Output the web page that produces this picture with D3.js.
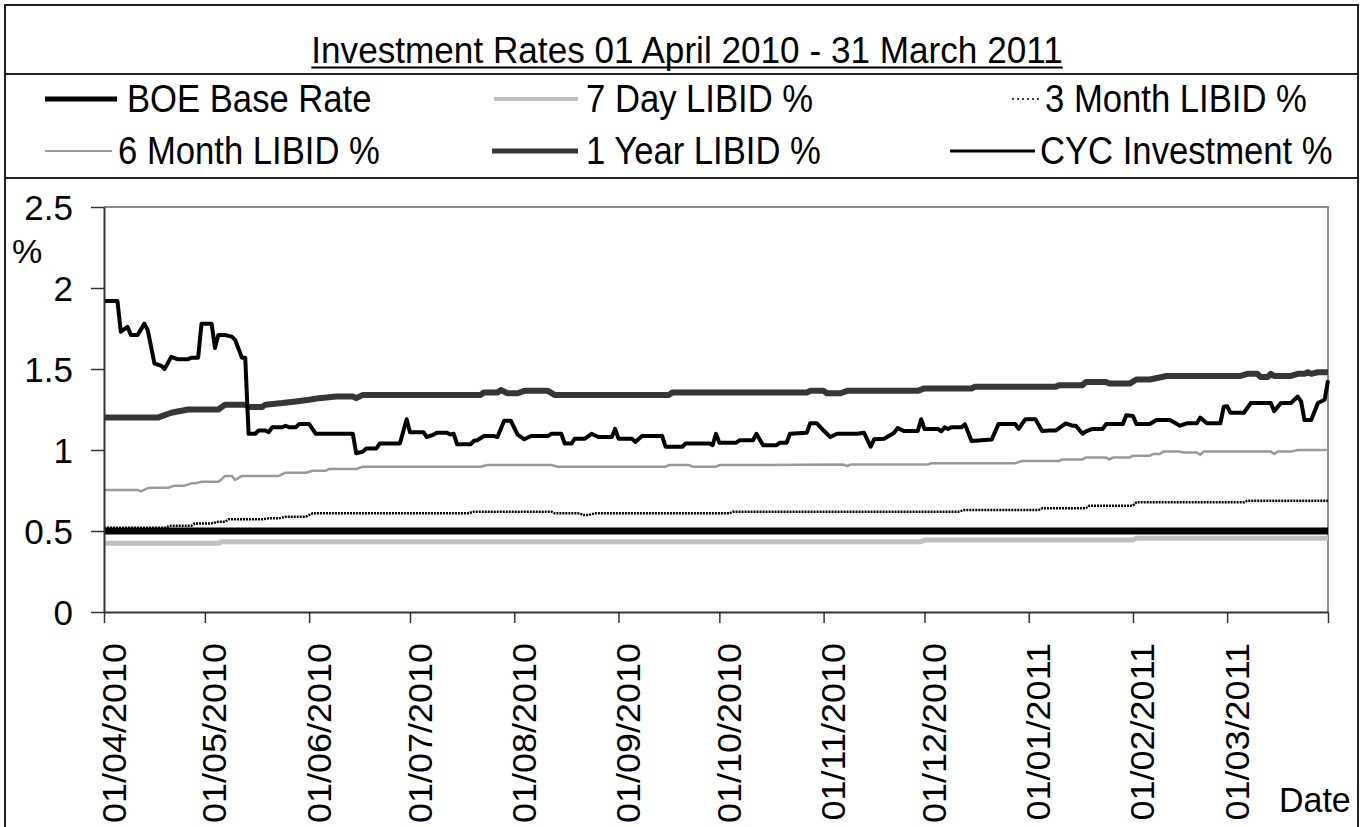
<!DOCTYPE html>
<html>
<head>
<meta charset="utf-8">
<style>
    body { margin: 0; background: #fff; }
    svg text { font-family: "Liberation Sans", Arial, sans-serif; fill: #000; }
</style>
<script src="https://d3js.org/d3.v7.min.js"></script>
</head>
<body>
<svg id="chart" width="1367" height="827"></svg>
<script>
// series as [date, rate %]
var boeRate = [["2010-04-01", 0.5], ["2011-03-31", 0.5]];

var sevenDay = [["2010-04-01", 0.424], ["2010-05-05", 0.424], ["2010-05-06", 0.434], ["2010-11-30", 0.434],
    ["2010-12-01", 0.444], ["2011-02-01", 0.444], ["2011-02-02", 0.455], ["2011-03-31", 0.455]];

var threeMonth = [["2010-04-01", 0.52], ["2010-04-19", 0.52], ["2010-04-21", 0.533], ["2010-04-27", 0.533],
    ["2010-04-28", 0.547], ["2010-05-03", 0.547], ["2010-05-05", 0.557], ["2010-05-07", 0.557],
    ["2010-05-08", 0.572], ["2010-05-18", 0.572], ["2010-05-20", 0.578], ["2010-05-23", 0.578],
    ["2010-05-25", 0.588], ["2010-05-31", 0.588], ["2010-06-02", 0.609], ["2010-07-18", 0.609],
    ["2010-07-20", 0.619], ["2010-08-12", 0.619], ["2010-08-13", 0.609], ["2010-08-20", 0.609],
    ["2010-08-22", 0.598], ["2010-08-23", 0.598], ["2010-08-25", 0.609], ["2010-10-04", 0.609],
    ["2010-10-05", 0.619], ["2010-12-11", 0.619], ["2010-12-13", 0.63], ["2011-01-04", 0.63],
    ["2011-01-05", 0.64], ["2011-01-18", 0.64], ["2011-01-19", 0.656], ["2011-02-01", 0.656],
    ["2011-02-02", 0.677], ["2011-03-06", 0.677], ["2011-03-07", 0.687], ["2011-03-31", 0.687]];

var sixMonth = [["2010-04-01", 0.753], ["2010-04-11", 0.753], ["2010-04-12", 0.745], ["2010-04-14", 0.764],
    ["2010-04-15", 0.767], ["2010-04-20", 0.767], ["2010-04-22", 0.78], ["2010-04-25", 0.78],
    ["2010-04-27", 0.794], ["2010-04-28", 0.794], ["2010-04-30", 0.804], ["2010-05-05", 0.804],
    ["2010-05-06", 0.82], ["2010-05-07", 0.84], ["2010-05-09", 0.84], ["2010-05-10", 0.815],
    ["2010-05-12", 0.84], ["2010-05-23", 0.84], ["2010-05-25", 0.86], ["2010-05-31", 0.86],
    ["2010-06-02", 0.872], ["2010-06-06", 0.872], ["2010-06-07", 0.883], ["2010-06-15", 0.883],
    ["2010-06-17", 0.897], ["2010-07-22", 0.897], ["2010-07-24", 0.907], ["2010-08-12", 0.907],
    ["2010-08-14", 0.897], ["2010-09-15", 0.897], ["2010-09-16", 0.907], ["2010-09-22", 0.907],
    ["2010-09-23", 0.897], ["2010-09-30", 0.897], ["2010-10-01", 0.907], ["2010-11-07", 0.91],
    ["2010-11-08", 0.90], ["2010-11-09", 0.91], ["2010-12-02", 0.91], ["2010-12-03", 0.918],
    ["2010-12-28", 0.918], ["2010-12-30", 0.932], ["2011-01-10", 0.932], ["2011-01-11", 0.942],
    ["2011-01-17", 0.942], ["2011-01-18", 0.953], ["2011-01-24", 0.953], ["2011-01-25", 0.942],
    ["2011-01-26", 0.953], ["2011-01-31", 0.953], ["2011-02-01", 0.965], ["2011-02-06", 0.965],
    ["2011-02-07", 0.975], ["2011-02-09", 0.975], ["2011-02-10", 0.99], ["2011-02-15", 0.99],
    ["2011-02-16", 0.985], ["2011-02-20", 0.985], ["2011-02-21", 0.97], ["2011-02-22", 0.99],
    ["2011-03-14", 0.99], ["2011-03-15", 0.975], ["2011-03-16", 0.99], ["2011-03-20", 0.99],
    ["2011-03-22", 1.0], ["2011-03-31", 1.0]];

var oneYear = [["2010-04-01", 1.20], ["2010-04-17", 1.20], ["2010-04-21", 1.23], ["2010-04-26", 1.25],
    ["2010-05-05", 1.25], ["2010-05-07", 1.28], ["2010-05-13", 1.28], ["2010-05-14", 1.265],
    ["2010-05-18", 1.265], ["2010-05-19", 1.28], ["2010-05-24", 1.29], ["2010-05-28", 1.30],
    ["2010-06-01", 1.31], ["2010-06-04", 1.32], ["2010-06-09", 1.33], ["2010-06-14", 1.33],
    ["2010-06-15", 1.32], ["2010-06-17", 1.34], ["2010-07-22", 1.34], ["2010-07-23", 1.355],
    ["2010-07-27", 1.355], ["2010-07-28", 1.37], ["2010-07-30", 1.35], ["2010-08-02", 1.35],
    ["2010-08-04", 1.365], ["2010-08-11", 1.365], ["2010-08-13", 1.34], ["2010-09-16", 1.34],
    ["2010-09-17", 1.355], ["2010-10-27", 1.355], ["2010-10-28", 1.365], ["2010-11-01", 1.365],
    ["2010-11-02", 1.35], ["2010-11-06", 1.35], ["2010-11-08", 1.365], ["2010-11-29", 1.365],
    ["2010-12-01", 1.38], ["2010-12-15", 1.38], ["2010-12-16", 1.39], ["2011-01-09", 1.39],
    ["2011-01-10", 1.40], ["2011-01-17", 1.40], ["2011-01-18", 1.42], ["2011-01-24", 1.42],
    ["2011-01-25", 1.41], ["2011-01-31", 1.41], ["2011-02-02", 1.435], ["2011-02-06", 1.435],
    ["2011-02-11", 1.457], ["2011-03-05", 1.457], ["2011-03-07", 1.47], ["2011-03-10", 1.47],
    ["2011-03-11", 1.45], ["2011-03-13", 1.45], ["2011-03-14", 1.47], ["2011-03-15", 1.457],
    ["2011-03-20", 1.457], ["2011-03-22", 1.47], ["2011-03-24", 1.47], ["2011-03-25", 1.48],
    ["2011-03-26", 1.47], ["2011-03-28", 1.48], ["2011-03-31", 1.48]];

var cycInvestment = [["2010-04-01", 1.92], ["2010-04-05", 1.92], ["2010-04-06", 1.73], ["2010-04-08", 1.76],
    ["2010-04-09", 1.71], ["2010-04-11", 1.71], ["2010-04-13", 1.78], ["2010-04-14", 1.74],
    ["2010-04-16", 1.535], ["2010-04-18", 1.52], ["2010-04-19", 1.50], ["2010-04-21", 1.575],
    ["2010-04-23", 1.56], ["2010-04-26", 1.56], ["2010-04-27", 1.57], ["2010-04-29", 1.57],
    ["2010-04-30", 1.78], ["2010-05-03", 1.78], ["2010-05-04", 1.63], ["2010-05-05", 1.71],
    ["2010-05-07", 1.71], ["2010-05-09", 1.70], ["2010-05-10", 1.68], ["2010-05-12", 1.57],
    ["2010-05-13", 1.57], ["2010-05-14", 1.10], ["2010-05-16", 1.10], ["2010-05-17", 1.12],
    ["2010-05-19", 1.12], ["2010-05-20", 1.11], ["2010-05-21", 1.14], ["2010-05-24", 1.14],
    ["2010-05-25", 1.15], ["2010-05-26", 1.14], ["2010-05-28", 1.14], ["2010-05-29", 1.16],
    ["2010-06-01", 1.16], ["2010-06-03", 1.10], ["2010-06-14", 1.10], ["2010-06-15", 0.98],
    ["2010-06-17", 0.99], ["2010-06-18", 1.01], ["2010-06-21", 1.01], ["2010-06-22", 1.04],
    ["2010-06-28", 1.04], ["2010-06-30", 1.19], ["2010-07-01", 1.11], ["2010-07-05", 1.11],
    ["2010-07-06", 1.08], ["2010-07-08", 1.095], ["2010-07-09", 1.107], ["2010-07-12", 1.107],
    ["2010-07-13", 1.095], ["2010-07-14", 1.10], ["2010-07-15", 1.035], ["2010-07-19", 1.035],
    ["2010-07-20", 1.057], ["2010-07-21", 1.06], ["2010-07-23", 1.086], ["2010-07-26", 1.086],
    ["2010-07-27", 1.08], ["2010-07-29", 1.18], ["2010-07-31", 1.18], ["2010-08-02", 1.095],
    ["2010-08-04", 1.066], ["2010-08-06", 1.086], ["2010-08-11", 1.086], ["2010-08-12", 1.10],
    ["2010-08-15", 1.10], ["2010-08-16", 1.04], ["2010-08-18", 1.04], ["2010-08-19", 1.07],
    ["2010-08-22", 1.07], ["2010-08-24", 1.10], ["2010-08-26", 1.08], ["2010-08-30", 1.08],
    ["2010-08-31", 1.13], ["2010-09-01", 1.07], ["2010-09-05", 1.07], ["2010-09-06", 1.05],
    ["2010-09-08", 1.086], ["2010-09-14", 1.086], ["2010-09-15", 1.02], ["2010-09-20", 1.02],
    ["2010-09-21", 1.04], ["2010-09-28", 1.04], ["2010-09-29", 1.03], ["2010-09-30", 1.10],
    ["2010-10-01", 1.045], ["2010-10-06", 1.045], ["2010-10-07", 1.06], ["2010-10-11", 1.06],
    ["2010-10-12", 1.10], ["2010-10-14", 1.03], ["2010-10-18", 1.03], ["2010-10-19", 1.045],
    ["2010-10-21", 1.045], ["2010-10-22", 1.10], ["2010-10-27", 1.107], ["2010-10-28", 1.165],
    ["2010-10-30", 1.165], ["2010-11-01", 1.12], ["2010-11-03", 1.08], ["2010-11-05", 1.10],
    ["2010-11-11", 1.10], ["2010-11-13", 1.107], ["2010-11-15", 1.02], ["2010-11-16", 1.066],
    ["2010-11-19", 1.07], ["2010-11-22", 1.107], ["2010-11-23", 1.135], ["2010-11-25", 1.117],
    ["2010-11-29", 1.117], ["2010-11-30", 1.19], ["2010-12-01", 1.13], ["2010-12-05", 1.13],
    ["2010-12-06", 1.115], ["2010-12-07", 1.14], ["2010-12-08", 1.13], ["2010-12-09", 1.14],
    ["2010-12-12", 1.14], ["2010-12-13", 1.16], ["2010-12-15", 1.055], ["2010-12-21", 1.065],
    ["2010-12-23", 1.16], ["2010-12-28", 1.16], ["2010-12-29", 1.13], ["2010-12-31", 1.19],
    ["2011-01-03", 1.19], ["2011-01-05", 1.117], ["2011-01-07", 1.12], ["2011-01-09", 1.12],
    ["2011-01-12", 1.165], ["2011-01-14", 1.15], ["2011-01-15", 1.15], ["2011-01-17", 1.10],
    ["2011-01-18", 1.115], ["2011-01-20", 1.13], ["2011-01-23", 1.13], ["2011-01-24", 1.16],
    ["2011-01-29", 1.16], ["2011-01-30", 1.215], ["2011-02-01", 1.21], ["2011-02-02", 1.16],
    ["2011-02-06", 1.16], ["2011-02-08", 1.185], ["2011-02-12", 1.185], ["2011-02-15", 1.15],
    ["2011-02-17", 1.165], ["2011-02-20", 1.165], ["2011-02-21", 1.20], ["2011-02-23", 1.165],
    ["2011-02-27", 1.165], ["2011-02-28", 1.267], ["2011-03-01", 1.27], ["2011-03-02", 1.23],
    ["2011-03-06", 1.23], ["2011-03-08", 1.29], ["2011-03-14", 1.29], ["2011-03-15", 1.24],
    ["2011-03-17", 1.29], ["2011-03-20", 1.29], ["2011-03-22", 1.33], ["2011-03-23", 1.30],
    ["2011-03-24", 1.185], ["2011-03-26", 1.185], ["2011-03-28", 1.29], ["2011-03-30", 1.31],
    ["2011-03-31", 1.43]];

var seriesNames = ["BOE Base Rate", "7 Day LIBID %", "3 Month LIBID %", "6 Month LIBID %", "1 Year LIBID %", "CYC Investment %"];
var yTicks = [0, 0.5, 1, 1.5, 2, 2.5];
var xTickDates = ["2010-04-01", "2010-05-01", "2010-06-01", "2010-07-01", "2010-08-01", "2010-09-01",
    "2010-10-01", "2010-11-01", "2010-12-01", "2011-01-01", "2011-02-01", "2011-03-01", "2011-03-31"];
var dateRange = ["2010-04-01", "2011-03-31"];

var parseDate = d3.timeParse("%Y-%m-%d");
var fmtDate = d3.timeFormat("%d/%m/%Y");

// line looks per series (same order as seriesNames)
var styles = [
    {data: boeRate, color: "#000", width: 7, dash: null},
    {data: sevenDay, color: "#c0c0c0", width: 5, dash: null},
    {data: threeMonth, color: "#000", width: 2.5, dash: "2,1"},
    {data: sixMonth, color: "#999", width: 2.5, dash: null},
    {data: oneYear, color: "#363636", width: 6, dash: null},
    {data: cycInvestment, color: "#000", width: 4, dash: null}
];

var svg = d3.select("#chart");
var plot = {left: 104, right: 1328, top: 207, bottom: 612};

var x = d3.scaleTime().domain(dateRange.map(parseDate)).range([plot.left, plot.right]);
var y = d3.scaleLinear().domain([0, 2.5]).range([plot.bottom, plot.top]);

// outer frame + separators
svg.append("rect").attr("x", 5).attr("y", 5).attr("width", 1353).attr("height", 850)
    .attr("fill", "none").attr("stroke", "#222").attr("stroke-width", 2);
[74, 178].forEach(function(yy) {
    svg.append("line").attr("x1", 5).attr("x2", 1358).attr("y1", yy).attr("y2", yy)
        .attr("stroke", "#222").attr("stroke-width", 2);
});

// title (underlined)
var titleX = 687;
var title = svg.append("text").attr("text-anchor", "middle").style("font-size", "37px")
    .attr("transform", "translate(" + titleX + ",63) scale(0.95,1)")
    .text("Investment Rates 01 April 2010 - 31 March 2011");
var tw = title.node().getComputedTextLength() * 0.95;
svg.append("line").attr("x1", titleX - tw / 2).attr("x2", titleX + tw / 2).attr("y1", 67.5).attr("y2", 67.5)
    .attr("stroke", "#000").attr("stroke-width", 2.2);

// legend: 3 columns x 2 rows
var legendPos = [
    {x1: 45, x2: 117, tx: 127, ty: 112},
    {x1: 494, x2: 578, tx: 586, ty: 112},
    {x1: 1012, x2: 1040, tx: 1045, ty: 112},
    {x1: 45, x2: 112, tx: 118, ty: 164},
    {x1: 492, x2: 578, tx: 586, ty: 164},
    {x1: 950, x2: 1035, tx: 1040, ty: 164}
];
var legendWidth = [5, 4, 1.5, 2, 5, 3];
seriesNames.forEach(function(name, i) {
    var p = legendPos[i], s = styles[i];
    var ly = p.ty - 13;
    svg.append("line").attr("x1", p.x1).attr("x2", p.x2).attr("y1", ly).attr("y2", ly)
        .attr("stroke", s.color).attr("stroke-width", legendWidth[i])
        .attr("stroke-dasharray", i === 2 ? "2,3" : null);
    svg.append("text").style("font-size", "38.5px")
        .attr("transform", "translate(" + p.tx + "," + p.ty + ") scale(0.9,1)")
        .text(name);
});

// plot border (top and right) in grey
svg.append("path")
    .attr("d", "M" + plot.left + "," + plot.top + "H" + plot.right + "V" + plot.bottom)
    .attr("fill", "none").attr("stroke", "#8c8c8c").attr("stroke-width", 2);

// series lines
var line = d3.line()
    .x(function(d) { return x(parseDate(d[0])); })
    .y(function(d) { return y(d[1]); });

styles.forEach(function(s) {
    svg.append("path").datum(s.data)
        .attr("d", line)
        .attr("fill", "none")
        .attr("stroke", s.color)
        .attr("stroke-width", s.width)
        .attr("stroke-dasharray", s.dash)
        .attr("stroke-linejoin", "round");
});

// y axis
var yAxis = d3.axisLeft(y).tickValues(yTicks).tickSize(13).tickSizeOuter(0)
    .tickFormat(function(d) { return String(d); });
var gy = svg.append("g").attr("transform", "translate(" + plot.left + ",0)").call(yAxis);
gy.select(".domain").attr("stroke", "#333").attr("stroke-width", 2);
gy.selectAll(".tick line").attr("stroke", "#333").attr("stroke-width", 1.5);
gy.selectAll(".tick text").attr("x", -31).attr("dy", "0.36em")
    .style("font-size", "35px").attr("fill", "#000");

// x axis
var endDate = dateRange[1];
var xAxis = d3.axisBottom(x).tickValues(xTickDates.map(parseDate)).tickSize(11).tickSizeOuter(0)
    .tickFormat(function(d) { return fmtDate(d) === fmtDate(parseDate(endDate)) ? "" : fmtDate(d); });
var gx = svg.append("g").attr("transform", "translate(0," + plot.bottom + ")").call(xAxis);
gx.select(".domain").attr("stroke", "#333").attr("stroke-width", 2);
gx.selectAll(".tick line").attr("stroke", "#333").attr("stroke-width", 1.5);
gx.selectAll(".tick text")
    .attr("y", null).attr("dy", null)
    .attr("text-anchor", "end")
    .attr("transform", "translate(21,31) scale(0.9,1) rotate(-90)")
    .style("font-size", "36px").attr("fill", "#000");
svg.selectAll("g").attr("font-size", null).attr("font-family", null);

// axis titles
svg.append("text").style("font-size", "34px").attr("x", 12).attr("y", 263).text("%");
svg.append("text").style("font-size", "35px")
    .attr("transform", "translate(1279,812) scale(0.97,1)").text("Date");
</script>
</body>
</html>
